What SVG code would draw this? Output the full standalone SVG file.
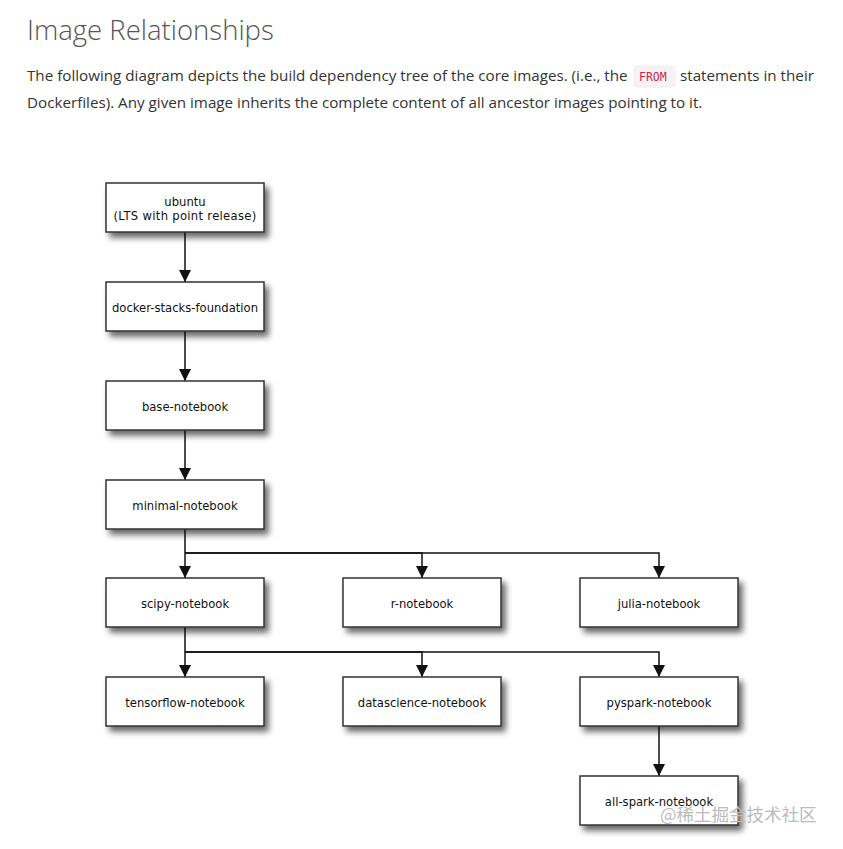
<svg xmlns="http://www.w3.org/2000/svg" width="843" height="849" viewBox="0 0 843 849">
<style>
.title{font-family:"Open Sans","Liberation Sans",sans-serif;font-size:27.5px;fill:#555;font-weight:300}
.para{font-family:"Open Sans","Liberation Sans",sans-serif;font-size:15.2px;fill:#333}
.code{font-family:"DejaVu Sans Mono","Liberation Mono",monospace;font-size:11.5px;fill:#c7254e}
.box{fill:#fff;stroke:#333;stroke-width:1.5}
.lbl{font-family:"DejaVu Sans","Liberation Sans",sans-serif;font-size:11.6px;fill:#111;text-anchor:middle}
.edge{fill:none;stroke:#111;stroke-width:1.5}
.wm{font-family:"Noto Sans CJK SC","Noto Sans",sans-serif;font-size:17.5px;fill:#bbb}
</style>
<defs>
<filter id="sh" x="-20%" y="-30%" width="150%" height="190%">
<feGaussianBlur in="SourceAlpha" stdDeviation="3"/>
<feOffset dx="4" dy="5" result="b"/>
<feComponentTransfer><feFuncA type="linear" slope="0.6"/></feComponentTransfer>
<feMerge><feMergeNode/><feMergeNode in="SourceGraphic"/></feMerge>
</filter>
<marker id="arr" viewBox="0 0 12 12" refX="12" refY="6" markerWidth="12" markerHeight="12" markerUnits="userSpaceOnUse" orient="auto">
<path d="M0,0 L12,6 L0,12 z" fill="#111"/>
</marker>
</defs>
<rect width="843" height="849" fill="#fff"/>
<text class="title" x="27" y="40">Image Relationships</text>
<text class="para" x="27" y="81">The following diagram depicts the build dependency tree of the core images. (i.e., the</text>
<rect x="634" y="66" width="41" height="21" rx="3" fill="#f9f2f4" stroke="#eee"/>
<text class="code" x="639" y="81">FROM</text>
<text class="para" x="680" y="81">statements in their</text>
<text class="para" x="27" y="108">Dockerfiles). Any given image inherits the complete content of all ancestor images pointing to it.</text>

<g id="connectors">
<path class="edge" d="M185,232 V282" marker-end="url(#arr)"/>
<path class="edge" d="M185,331 V381" marker-end="url(#arr)"/>
<path class="edge" d="M185,430 V480" marker-end="url(#arr)"/>
<path class="edge" d="M185,529 V578" marker-end="url(#arr)"/>
<path class="edge" d="M185,553 H422 V578" marker-end="url(#arr)"/>
<path class="edge" d="M185,553 H659 V578" marker-end="url(#arr)"/>
<path class="edge" d="M185,627 V677" marker-end="url(#arr)"/>
<path class="edge" d="M185,652 H422 V677" marker-end="url(#arr)"/>
<path class="edge" d="M185,652 H659 V677" marker-end="url(#arr)"/>
<path class="edge" d="M659,726 V776" marker-end="url(#arr)"/>
</g>

<g id="ubuntu"><rect class="box" x="106" y="183" width="158" height="49" filter="url(#sh)"/>
<text class="lbl" x="185" y="206">ubuntu</text><text class="lbl" x="185" y="220" letter-spacing="0.3">(LTS with point release)</text></g>
<g id="docker-stacks-foundation"><rect class="box" x="106" y="282" width="158" height="49" filter="url(#sh)"/>
<text class="lbl" x="185" y="312">docker-stacks-foundation</text></g>
<g id="base-notebook"><rect class="box" x="106" y="381" width="158" height="49" filter="url(#sh)"/>
<text class="lbl" x="185" y="411">base-notebook</text></g>
<g id="minimal-notebook"><rect class="box" x="106" y="480" width="158" height="49" filter="url(#sh)"/>
<text class="lbl" x="185" y="510">minimal-notebook</text></g>
<g id="scipy-notebook"><rect class="box" x="106" y="578" width="158" height="49" filter="url(#sh)"/>
<text class="lbl" x="185" y="608">scipy-notebook</text></g>
<g id="r-notebook"><rect class="box" x="343" y="578" width="158" height="49" filter="url(#sh)"/>
<text class="lbl" x="422" y="608">r-notebook</text></g>
<g id="julia-notebook"><rect class="box" x="580" y="578" width="158" height="49" filter="url(#sh)"/>
<text class="lbl" x="659" y="608">julia-notebook</text></g>
<g id="tensorflow-notebook"><rect class="box" x="106" y="677" width="158" height="49" filter="url(#sh)"/>
<text class="lbl" x="185" y="707">tensorflow-notebook</text></g>
<g id="datascience-notebook"><rect class="box" x="343" y="677" width="158" height="49" filter="url(#sh)"/>
<text class="lbl" x="422" y="707">datascience-notebook</text></g>
<g id="pyspark-notebook"><rect class="box" x="580" y="677" width="158" height="49" filter="url(#sh)"/>
<text class="lbl" x="659" y="707">pyspark-notebook</text></g>
<g id="all-spark-notebook"><rect class="box" x="580" y="776" width="158" height="49" filter="url(#sh)"/>
<text class="lbl" x="659" y="806">all-spark-notebook</text></g>

<text class="wm" x="660" y="821">@稀土掘金技术社区</text>
</svg>
